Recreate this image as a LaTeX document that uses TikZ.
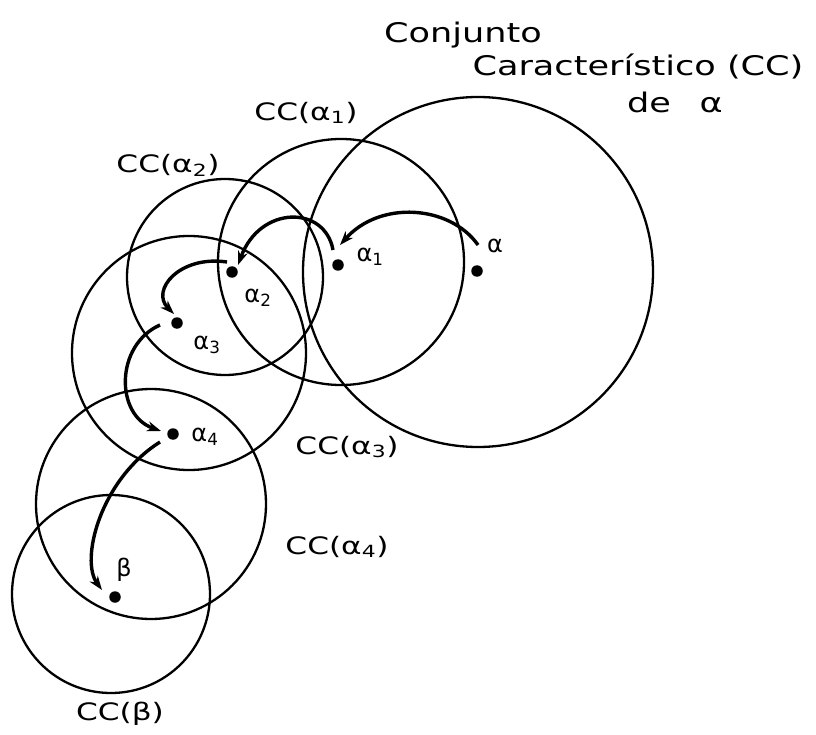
\documentclass[tikz,border=0pt]{standalone}
\usepackage{fontspec}
\setmainfont{DejaVu Sans}
\usetikzlibrary{arrows.meta}
\newcommand{\wide}[1]{\scalebox{1.3}[1]{#1}}
\begin{document}
\begin{tikzpicture}[x=1pt,y=-1pt,
  ring/.style={draw,circle,line width=2.3pt,inner sep=0pt},
  dot/.style={circle,fill=black,inner sep=0pt,minimum size=11.5pt},
  arr/.style={line width=3.4pt,-{Stealth[length=14pt,width=10pt]}},
  ptlab/.style={font=\fontsize{24}{28}\selectfont,inner sep=0pt},
  cclab/.style={font=\fontsize{24}{28}\selectfont,inner sep=0pt},
  titlab/.style={font=\fontsize{27}{32}\selectfont,inner sep=0pt}]
\useasboundingbox (0,0) rectangle (816,735);
% sets
\node[ring,minimum size=350pt] (C0) at (478,272) {};
\node[ring,minimum size=246pt] (C1) at (341,262) {};
\node[ring,minimum size=196pt] (C2) at (225,277) {};
\node[ring,minimum size=234pt] (C3) at (189,353) {};
\node[ring,minimum size=230pt] (C4) at (151,504) {};
\node[ring,minimum size=198pt] (C5) at (111,594) {};
% points
\node[dot] (a)  at (477,271) {};
\node[dot] (a1) at (338,265) {};
\node[dot] (a2) at (232,272) {};
\node[dot] (a3) at (177,323) {};
\node[dot] (a4) at (173,434) {};
\node[dot] (b)  at (115,597) {};
% point labels
\node[ptlab] (la)  at (495,246) {α};
\node[ptlab] (la1) at (370,257) {α\textsubscript{1}};
\node[ptlab] (la2) at (258,298) {α\textsubscript{2}};
\node[ptlab] (la3) at (207,345) {α\textsubscript{3}};
\node[ptlab] (la4) at (205,437) {α\textsubscript{4}};
\node[ptlab] (lb)  at (124,570) {β};
% set labels
\node[cclab] (lc1) at (306,113) {\wide{CC(α\textsubscript{1})}};
\node[cclab] (lc2) at (168,165) {\wide{CC(α\textsubscript{2})}};
\node[cclab] (lc3) at (347,447) {\wide{CC(α\textsubscript{3})}};
\node[cclab] (lc4) at (337,547) {\wide{CC(α\textsubscript{4})}};
\node[cclab] (lc5) at (120,714) {\wide{CC(β)}};
\node[titlab] (t1) at (463,35) {\wide{Conjunto}};
\node[titlab] (t2) at (638,66) {\wide{Característico (CC)}};
\node[titlab] (t3) at (675,102) {\wide{de\hspace{22pt}α}};
% arrow ends
\coordinate (s1) at ([shift={(1,-26)}]a.center);
\coordinate (e1) at ([shift={(2,-20)}]a1.center);
\coordinate (s2) at ([shift={(-5,-15)}]a1.center);
\coordinate (e2) at ([shift={(6,-7)}]a2.center);
\coordinate (s3) at ([shift={(-5,-10)}]a2.center);
\coordinate (e3) at ([shift={(-3,-9)}]a3.center);
\coordinate (s4) at ([shift={(-17,2)}]a3.center);
\coordinate (e4) at ([shift={(-12,-3)}]a4.center);
\coordinate (s5) at ([shift={(-13,8)}]a4.center);
\coordinate (e5) at ([shift={(-13,-7)}]b.center);
% arrows
\draw[arr] (s1) .. controls +(-28,-40) and +(40,-45) .. (e1);
\draw[arr] (s2) .. controls +(-8,-45) and +(22,-60) .. (e2);
\draw[arr] (s3) .. controls +(-47,-7) and +(-24,-24) .. (e3);
\draw[arr] (s4) .. controls +(-45,20) and +(-46,-16) .. (e4);
\draw[arr] (s5) .. controls +(-60,38) and +(-22,-30) .. (e5);
\end{tikzpicture}
\end{document}
